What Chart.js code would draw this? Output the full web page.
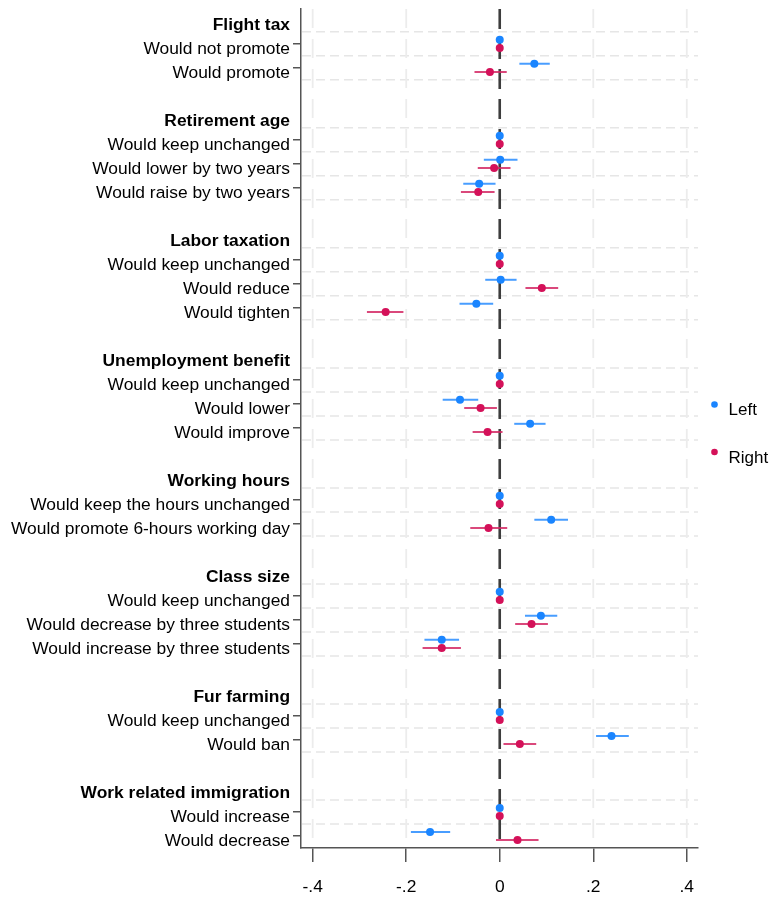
<!DOCTYPE html>
<html>
<head>
<meta charset="utf-8">
<script src="https://cdn.jsdelivr.net/npm/chart.js@4.4.1/dist/chart.umd.min.js"></script>
<style>
html,body{margin:0;padding:0;background:#ffffff;}
#wrap{width:772px;height:899px;position:relative;}
</style>
</head>
<body>
<div id="wrap"><canvas id="c" width="772" height="899"></canvas></div>
<script>
// ---- Data ----
const rowLabels = [
  "Flight tax","Would not promote","Would promote","",
  "Retirement age","Would keep unchanged","Would lower by two years","Would raise by two years","",
  "Labor taxation","Would keep unchanged","Would reduce","Would tighten","",
  "Unemployment benefit","Would keep unchanged","Would lower","Would improve","",
  "Working hours","Would keep the hours unchanged","Would promote 6-hours working day","",
  "Class size","Would keep unchanged","Would decrease by three students","Would increase by three students","",
  "Fur farming","Would keep unchanged","Would ban","",
  "Work related immigration","Would increase","Would decrease"
];
const headerRows = [0,4,9,14,19,23,28,32];
const itemRows = [1,2, 5,6,7, 10,11,12, 15,16,17, 20,21, 24,25,26, 29,30, 33,34];

const seriesNames = ["Left","Right"];
const leftEst  = [0, 0.074,  0, 0.001,-0.044,  0, 0.002,-0.050,  0,-0.085, 0.065,  0, 0.110,  0, 0.088,-0.124,  0, 0.239,  0,-0.149];
const leftLo   = [null, 0.042,  null,-0.034,-0.078,  null,-0.031,-0.086,  null,-0.122, 0.031,  null, 0.074,  null, 0.054,-0.161,  null, 0.206,  null,-0.190];
const leftHi   = [null, 0.107,  null, 0.038,-0.009,  null, 0.036,-0.014,  null,-0.046, 0.098,  null, 0.146,  null, 0.123,-0.087,  null, 0.276,  null,-0.106];
const rightEst = [0,-0.021,  0,-0.012,-0.046,  0, 0.090,-0.244,  0,-0.041,-0.026,  0,-0.024,  0, 0.068,-0.124,  0, 0.043,  0, 0.038];
const rightLo  = [null,-0.054,  null,-0.047,-0.083,  null, 0.055,-0.284,  null,-0.076,-0.058,  null,-0.063,  null, 0.033,-0.165,  null, 0.008,  null,-0.008];
const rightHi  = [null, 0.015,  null, 0.023,-0.011,  null, 0.125,-0.206,  null,-0.006, 0.006,  null, 0.016,  null, 0.103,-0.083,  null, 0.078,  null, 0.083];

const xTicks = [-0.4,-0.2,0,0.2,0.4];
const xTickLabels = ["-.4","-.2","0",".2",".4"];

// ---- Styles ----
const FONT = "'Liberation Sans', Arial, Helvetica, sans-serif";
const FSIZE = 17.4;
const leftColor = "#1A85FF", rightColor = "#D41159";
const leftBar = "rgba(40,140,255,0.85)", rightBar = "rgba(212,40,100,0.85)";
const rowShift = 0.17;

Chart.defaults.font.family = FONT;

function makeDataset(name, est, lo, hi, color, barColor, shift) {
  return {
    label: name,
    data: itemRows.map((r, i) => ({x: est[i], y: r + shift})),
    errLo: lo, errHi: hi, barColor: barColor,
    backgroundColor: color, borderColor: color, borderWidth: 0,
    pointRadius: 4, pointHoverRadius: 4, showLine: false
  };
}

const gridPlugin = {
  id: 'gridPlugin',
  beforeDatasetsDraw(chart) {
    const {ctx, chartArea: a, scales: {x, y}} = chart;
    ctx.save();
    // horizontal dashed gridlines at item row boundaries (inside plot only)
    const bounds = new Set();
    itemRows.forEach(r => { bounds.add(r - 0.5); bounds.add(r + 0.5); });
    ctx.strokeStyle = '#e6e6e6';
    ctx.lineWidth = 1.5;
    ctx.setLineDash([9, 5]);
    bounds.forEach(v => {
      if (v >= y.max || v <= y.min) return;
      const py = y.getPixelForValue(v);
      ctx.beginPath(); ctx.moveTo(a.left + 1, py); ctx.lineTo(a.right, py); ctx.stroke();
    });
    // vertical light dashed gridlines
    ctx.setLineDash([19, 11]);
    ctx.strokeStyle = '#ececec';
    ctx.lineWidth = 1.8;
    xTicks.filter(v => v !== 0).forEach(v => {
      const px = x.getPixelForValue(v);
      ctx.beginPath(); ctx.moveTo(px, a.top); ctx.lineTo(px, a.bottom - 1); ctx.stroke();
    });
    // zero reference line
    ctx.strokeStyle = '#3d3d3d';
    ctx.lineWidth = 2.6;
    ctx.setLineDash([20, 10]);
    const p0 = x.getPixelForValue(0);
    ctx.beginPath(); ctx.moveTo(p0, a.top); ctx.lineTo(p0, a.bottom - 1); ctx.stroke();
    // error bars
    ctx.setLineDash([]);
    ctx.lineWidth = 2;
    chart.data.datasets.forEach(ds => {
      ctx.strokeStyle = ds.barColor;
      ds.data.forEach((pt, i) => {
        if (ds.errLo[i] == null) return;
        const py = y.getPixelForValue(pt.y);
        ctx.beginPath();
        ctx.moveTo(x.getPixelForValue(ds.errLo[i]), py);
        ctx.lineTo(x.getPixelForValue(ds.errHi[i]), py);
        ctx.stroke();
      });
    });
    ctx.restore();
  }
};

const legendPlugin = {
  id: 'legendPlugin',
  afterDraw(chart) {
    const {ctx, chartArea: a} = chart;
    const mid = (a.top + a.bottom) / 2;
    const colors = [leftColor, rightColor];
    ctx.save();
    ctx.font = "17px " + FONT;
    ctx.textBaseline = 'middle';
    ctx.textAlign = 'left';
    seriesNames.forEach((name, i) => {
      const cy = mid - 24 + i * 47.5;
      const cx = a.right + 16.5;
      ctx.fillStyle = colors[i];
      ctx.beginPath(); ctx.arc(cx, cy, 3.3, 0, Math.PI * 2); ctx.fill();
      ctx.fillStyle = '#000';
      ctx.fillText(name, cx + 14, cy + 6);
    });
    ctx.restore();
  }
};

new Chart(document.getElementById('c'), {
  type: 'scatter',
  data: {
    datasets: [
      makeDataset(seriesNames[0], leftEst, leftLo, leftHi, leftColor, leftBar, -rowShift),
      makeDataset(seriesNames[1], rightEst, rightLo, rightHi, rightColor, rightBar, rowShift)
    ]
  },
  options: {
    responsive: false,
    animation: false,
    devicePixelRatio: 1,
    layout: {padding: {top: 9, right: 74, left: 0, bottom: 0}},
    plugins: {legend: {display: false}, tooltip: {enabled: false}},
    scales: {
      x: {
        type: 'linear', min: -0.425, max: 0.424,
        afterBuildTicks: ax => { ax.ticks = xTicks.map(v => ({value: v})); },
        afterFit: ax => { ax.height = 51; ax.paddingLeft = 0; ax.paddingRight = 0; },
        grid: {display: true, drawOnChartArea: false, drawTicks: true, tickLength: 14, tickWidth: 1.5, tickColor: '#555', lineWidth: 1.5, color: '#555'},
        border: {display: true, color: '#555', width: 1.5},
        ticks: {
          padding: 15, color: '#000', maxRotation: 0, autoSkip: false,
          font: {family: FONT, size: FSIZE},
          callback: (v, i) => xTickLabels[i]
        }
      },
      y: {
        type: 'linear', reverse: true, min: -0.45, max: 34.5,
        afterBuildTicks: ax => { ax.ticks = rowLabels.map((_, i) => ({value: i})); },
        afterFit: ax => { ax.width = 301; ax.paddingTop = 0; ax.paddingBottom = 0; },
        grid: {
          display: true, drawOnChartArea: false, drawTicks: true, tickLength: 8, tickWidth: 1.5, lineWidth: 1.5,
          tickColor: c => (c.tick && itemRows.includes(c.tick.value)) ? '#555' : 'rgba(0,0,0,0)'
        },
        border: {display: true, color: '#555', width: 1.5},
        ticks: {
          autoSkip: false, padding: 3, labelOffset: 5, color: '#000',
          font: c => ({family: FONT, size: FSIZE, weight: (c.tick && headerRows.includes(c.tick.value)) ? 'bold' : 'normal'}),
          callback: v => rowLabels[Math.round(v)] || ''
        }
      }
    }
  },
  plugins: [gridPlugin, legendPlugin]
});
</script>
</body>
</html>
